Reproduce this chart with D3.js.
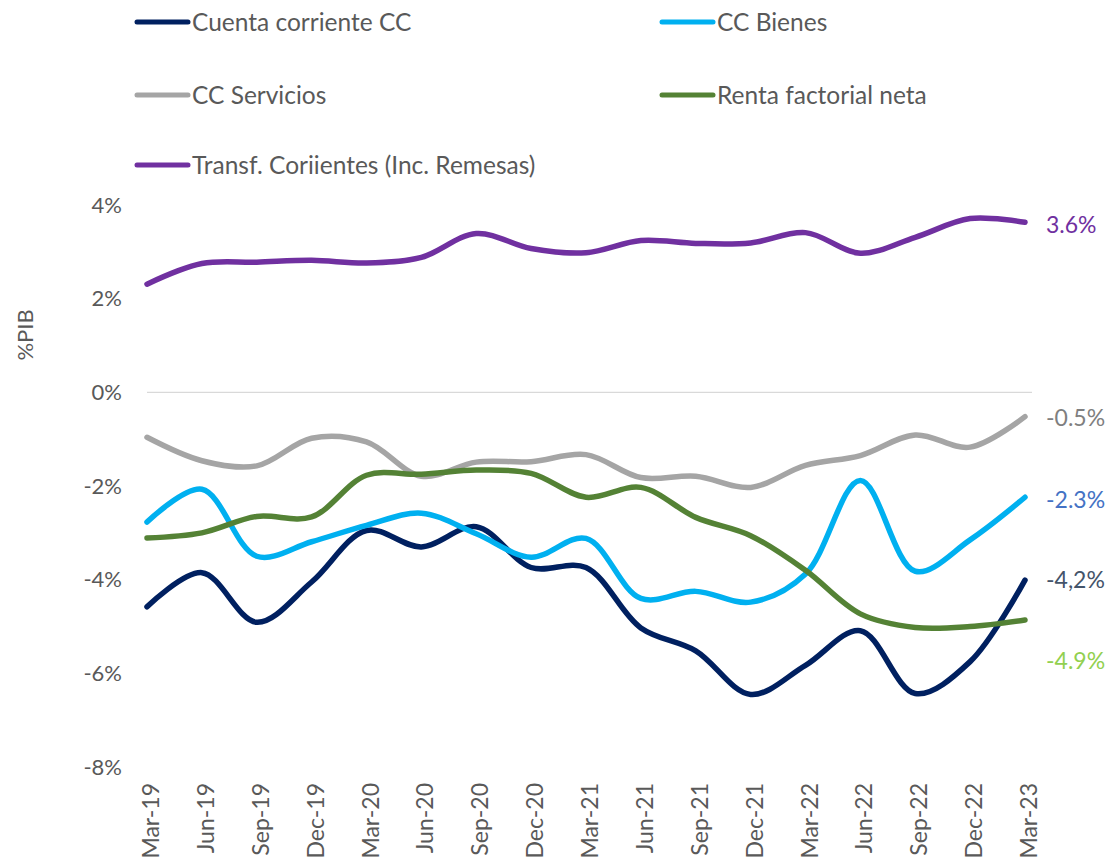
<!DOCTYPE html>
<html>
<head>
<meta charset="utf-8">
<script src="https://cdn.jsdelivr.net/npm/d3@7"></script>
<style>
  body { margin: 0; background: #fff; }
  text { font-family: Lato, "Noto Sans", sans-serif; }
</style>
</head>
<body>
<figure id="chart" style="margin:0"></figure>
<script>
const quarters = ["Mar-19","Jun-19","Sep-19","Dec-19","Mar-20","Jun-20","Sep-20","Dec-20","Mar-21",
                  "Jun-21","Sep-21","Dec-21","Mar-22","Jun-22","Sep-22","Dec-22","Mar-23"];

const cuentaCorriente = [-4.58,-3.85,-4.91,-4.05,-2.95,-3.30,-2.87,-3.74,-3.74,-5.03,-5.52,-6.45,-5.83,-5.09,-6.43,-5.75,-4.01];
const ccBienes        = [-2.77,-2.07,-3.50,-3.19,-2.84,-2.58,-3.02,-3.52,-3.12,-4.40,-4.25,-4.48,-3.88,-1.88,-3.82,-3.15,-2.24];
const ccServicios     = [-0.96,-1.46,-1.57,-0.98,-1.06,-1.79,-1.49,-1.48,-1.33,-1.82,-1.79,-2.03,-1.56,-1.35,-0.91,-1.17,-0.52];
const rentaFactorial  = [-3.11,-3.00,-2.65,-2.66,-1.77,-1.75,-1.66,-1.73,-2.24,-2.03,-2.67,-3.06,-3.80,-4.73,-5.02,-5.00,-4.86];
const transferencias  = [2.31,2.75,2.78,2.82,2.76,2.88,3.39,3.07,2.98,3.24,3.18,3.19,3.41,2.97,3.31,3.71,3.63];

const yTicks = [4, 2, 0, -2, -4, -6, -8];

const series = [
  { name: "Cuenta corriente CC", values: cuentaCorriente, color: "#002060", end: "-4,2%", endColor: "#44546A" },
  { name: "CC Bienes", values: ccBienes, color: "#00B0F0", end: "-2.3%", endColor: "#4472C4" },
  { name: "CC Servicios", values: ccServicios, color: "#A5A5A5", end: "-0.5%", endColor: "#7F7F7F" },
  { name: "Renta factorial neta", values: rentaFactorial, color: "#548235", end: "-4.9%", endColor: "#92D050" },
  { name: "Transf. Coriientes (Inc. Remesas)", values: transferencias, color: "#7030A0", end: "3.6%", endColor: "#7030A0" }
];

const W = 1112, H = 864;
const svg = d3.select("#chart").append("svg").attr("width", W).attr("height", H);

const x = d3.scalePoint().domain(quarters).range([147, 1025]);
const y = d3.scaleLinear().domain([-8, 4]).range([767, 205]);

// zero line
svg.append("line")
   .attr("x1", 147).attr("x2", 1032)
   .attr("y1", y(0)).attr("y2", y(0))
   .attr("stroke", "#d9d9d9").attr("stroke-width", 1.2);

// y axis labels
svg.append("g").selectAll("text")
   .data(yTicks)
   .enter().append("text")
   .attr("x", 122).attr("y", d => y(d))
   .attr("dy", "0.35em")
   .attr("text-anchor", "end")
   .attr("font-size", 22).attr("fill", "#595959")
   .text(d => d + "%");

svg.append("text")
   .attr("transform", "translate(25,335) rotate(-90)")
   .attr("text-anchor", "middle").attr("dy", "0.35em")
   .attr("font-size", 22).attr("fill", "#595959")
   .text("%PIB");

// x axis labels
svg.append("g").selectAll("text")
   .data(quarters)
   .enter().append("text")
   .attr("transform", d => `translate(${x(d) + 4},783) rotate(-90)`)
   .attr("text-anchor", "end").attr("dy", "0.35em")
   .attr("font-size", 23).attr("fill", "#595959")
   .text(d => d);

const line = d3.line()
   .x((d, i) => x(quarters[i]))
   .y(d => y(d))
   .curve(d3.curveCatmullRom.alpha(0.5));

svg.append("g").selectAll("path")
   .data(series)
   .enter().append("path")
   .attr("fill", "none")
   .attr("stroke", d => d.color)
   .attr("stroke-width", 5.5)
   .attr("stroke-linecap", "round")
   .attr("d", d => line(d.values));

// end labels
const endY = { "3.6%": 225, "-0.5%": 418, "-2.3%": 500, "-4,2%": 580, "-4.9%": 661 };
svg.append("g").selectAll("text")
   .data(series)
   .enter().append("text")
   .attr("x", 1046).attr("y", d => endY[d.end])
   .attr("dy", "0.35em")
   .attr("font-size", 23).attr("fill", d => d.endColor)
   .text(d => d.end);

// legend
const legendPos = [[135, 22], [660, 22], [135, 95], [660, 95], [135, 165]];
const lg = svg.append("g").selectAll("g")
   .data(series)
   .enter().append("g")
   .attr("transform", (d, i) => `translate(${legendPos[i][0]},${legendPos[i][1]})`);
lg.append("line")
   .attr("x1", 2).attr("x2", 53).attr("y1", 0).attr("y2", 0)
   .attr("stroke", d => d.color).attr("stroke-width", 5).attr("stroke-linecap", "round");
lg.append("text")
   .attr("x", 57).attr("dy", "0.35em")
   .attr("font-size", 24.5).attr("fill", "#595959")
   .text(d => d.name);
</script>
</body>
</html>
